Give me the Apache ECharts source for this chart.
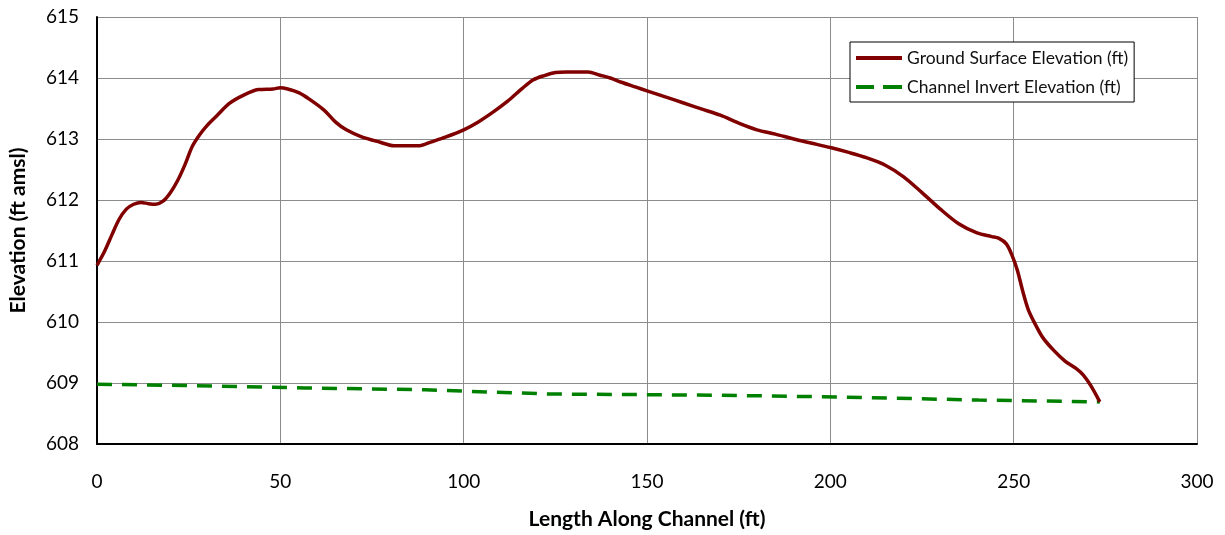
<!DOCTYPE html>
<html>
<head>
<meta charset="utf-8">
<script src="https://cdn.jsdelivr.net/npm/echarts@6/dist/echarts.min.js"></script>
<style>
  html, body { margin: 0; padding: 0; background: #fff; }
  #chart { width: 1225px; height: 535px; }
</style>
</head>
<body>
<div id="chart"></div>
<script>
// ground surface profile (ft along channel, ft amsl)
var groundX = [0, 2, 4, 6, 8, 10, 12, 14, 16, 18, 20, 22, 24, 26, 28, 30, 33, 36, 40, 44, 48, 50, 52, 55, 58, 62, 65, 68, 72, 77, 81, 85, 88, 91, 95, 100, 104, 108, 112, 116, 119, 122, 125, 128, 131, 134, 137, 140, 143, 147, 150, 155, 160, 165, 170, 175, 180, 185, 190, 195, 200, 205, 210, 215, 220, 225, 230, 235, 240, 244, 246, 248, 249.5, 251, 252.5, 254, 256, 258, 261, 264, 267, 269, 271, 273.5]
var groundY = [610.93, 611.15, 611.42, 611.68, 611.85, 611.93, 611.96, 611.94, 611.93, 611.98, 612.12, 612.32, 612.58, 612.88, 613.07, 613.22, 613.40, 613.58, 613.72, 613.81, 613.82, 613.84, 613.82, 613.76, 613.65, 613.47, 613.28, 613.15, 613.04, 612.95, 612.89, 612.89, 612.89, 612.95, 613.03, 613.15, 613.28, 613.44, 613.62, 613.83, 613.97, 614.04, 614.09, 614.10, 614.10, 614.10, 614.05, 614.00, 613.93, 613.85, 613.79, 613.69, 613.59, 613.49, 613.39, 613.26, 613.15, 613.08, 613.00, 612.93, 612.86, 612.78, 612.69, 612.57, 612.38, 612.12, 611.85, 611.61, 611.46, 611.40, 611.37, 611.28, 611.10, 610.85, 610.50, 610.20, 609.95, 609.74, 609.53, 609.36, 609.24, 609.13, 608.96, 608.69]

// channel invert (stepped)
var invertX = [0, 23.5, 24, 56.5, 57, 89.5, 90, 108, 108.5, 123, 123.5, 169, 169.5, 203, 203.5, 240.5, 241, 273.5]
var invertY = [608.98, 608.96, 608.93, 608.92, 608.90, 608.89, 608.86, 608.85, 608.83, 608.82, 608.81, 608.80, 608.78, 608.77, 608.74, 608.72, 608.70, 608.69]

var seriesNames = ['Ground Surface Elevation (ft)', 'Channel Invert Elevation (ft)']

function pairs(xs, ys) {
  return xs.map(function (x, i) { return [x, ys[i]] })
}

var chart = echarts.init(document.getElementById('chart'))
var font = 'Lato, "Liberation Sans", sans-serif'

chart.setOption({
  animation: false,
  textStyle: { fontFamily: font },
  grid: { left: 97, right: 28, top: 17, bottom: 91 },
  legend: {
    orient: 'vertical',
    left: 850,
    top: 42,
    padding: [7, 6, 6, 6],
    itemGap: 11,
    itemWidth: 46,
    itemHeight: 4,
    borderColor: '#000',
    borderWidth: 1,
    backgroundColor: '#fff',
    textStyle: { fontFamily: font, fontSize: 17.5, color: '#111', padding: [0, 0, 0, 0] },
    data: [
      { name: seriesNames[0], icon: 'path://M0,0h46v4h-46z' },
      { name: seriesNames[1], icon: 'path://M0,0h18v4h-18z M27,0h19v4h-19z' }
    ]
  },
  xAxis: {
    type: 'value',
    min: 0,
    max: 300,
    interval: 50,
    name: 'Length Along Channel (ft)',
    nameLocation: 'middle',
    nameGap: 65,
    nameTextStyle: { fontFamily: font, fontSize: 21, fontWeight: 'bold', color: '#000' },
    axisLine: { show: true, onZero: false, lineStyle: { color: '#000', width: 2 } },
    axisTick: { show: false },
    axisLabel: { fontFamily: font, fontSize: 19, color: '#000', margin: 28 },
    splitLine: { show: true, lineStyle: { color: '#8c8c8c', width: 1 } }
  },
  yAxis: {
    type: 'value',
    min: 608,
    max: 615,
    interval: 1,
    name: 'Elevation (ft amsl)',
    nameLocation: 'middle',
    nameGap: 68,
    nameRotate: 90,
    nameTextStyle: { fontFamily: font, fontSize: 21, fontWeight: 'bold', color: '#000' },
    axisLine: { show: true, lineStyle: { color: '#000', width: 2 } },
    axisTick: { show: false },
    axisLabel: { fontFamily: font, fontSize: 19, color: '#000', margin: 18 },
    splitLine: { show: true, lineStyle: { color: '#8c8c8c', width: 1 } }
  },
  series: [
    {
      name: seriesNames[0],
      type: 'line',
      data: pairs(groundX, groundY),
      symbol: 'none',
      smooth: 0.3,
      lineStyle: { color: '#800000', width: 3.5 },
      itemStyle: { color: '#800000' },
      z: 3
    },
    {
      name: seriesNames[1],
      type: 'line',
      data: pairs(invertX, invertY),
      symbol: 'none',
      lineStyle: { color: '#008000', width: 3.5, type: [15, 10] },
      itemStyle: { color: '#008000' },
      z: 2
    }
  ]
})
</script>
</body>
</html>
